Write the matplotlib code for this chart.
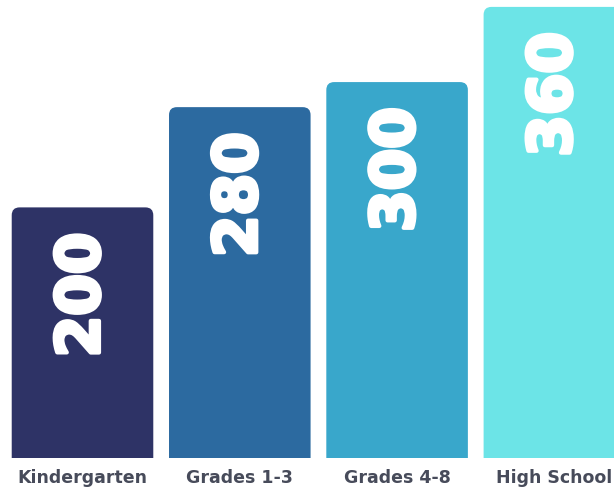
import matplotlib
matplotlib.use("Agg")
import matplotlib.pyplot as plt
import matplotlib.patheffects as pe
from matplotlib.patches import FancyBboxPatch

# Data
categories = ["Kindergarten", "Grades 1-3", "Grades 4-8", "High School"]
values = [200, 280, 300, 360]
colors = ["#2e3366", "#2c6aa0", "#39a7cb", "#6ce4e7"]

fig = plt.figure(figsize=(6.14, 4.89), dpi=100)
ax = fig.add_axes([0, 30 / 489, 1, 459 / 489])

x = list(range(len(categories)))
bars = ax.bar(x, values, width=0.9, color=colors)

ax.set_xlim(-0.5245, 3.379)
ax.set_ylim(0, 366.3)

# swap plain bars for ones with rounded tops (extend below 0 so bottom stays square)
px_per_x = 614 / (3.379 + 0.5245)
px_per_y = 459 / 366.3
for bar, c in zip(bars, colors):
    bx, bw, bh = bar.get_x(), bar.get_width(), bar.get_height()
    pad = 0.05
    patch = FancyBboxPatch(
        (bx + pad, -20), bw - 2 * pad, bh + 20 - pad * px_per_x / px_per_y,
        boxstyle=f"round,pad={pad},rounding_size={pad}",
        mutation_aspect=px_per_x / px_per_y,
        facecolor=c, edgecolor="none", clip_on=True,
    )
    ax.add_patch(patch)
    bar.remove()

# heavy white value labels, thickened with a stroke
for xi, v in zip(x, values):
    ax.annotate(str(v), (xi, v), xytext=(0, -18), textcoords="offset points",
                rotation=90, ha="center", va="top", color="white",
                fontsize=43, fontweight="bold", family="DejaVu Sans",
                path_effects=[pe.withStroke(linewidth=3, foreground="white")])

ax.set_xticks(x)
ax.set_xticklabels(categories, fontsize=12.5, fontweight="bold", color="#474b5a")
ax.tick_params(axis="x", length=0, pad=7)
ax.set_yticks([])
for s in ax.spines.values():
    s.set_visible(False)

fig.savefig("out.png", dpi=100)
